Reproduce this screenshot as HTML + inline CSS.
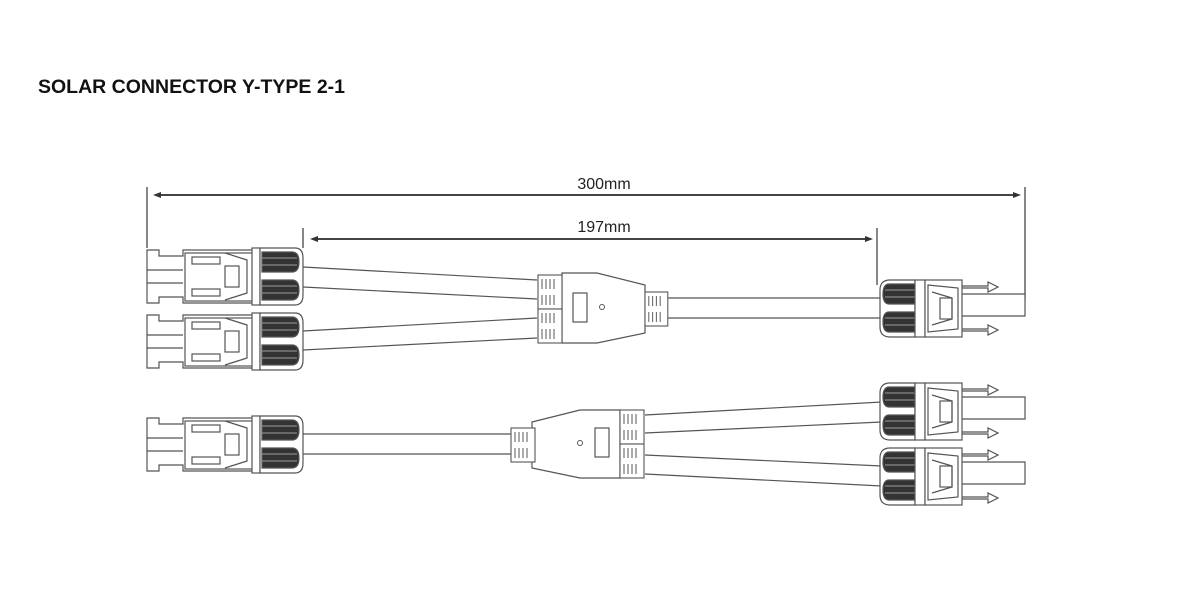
<!DOCTYPE html>
<html><head><meta charset="utf-8"><style>
html,body{margin:0;padding:0;background:#fff;}
body{width:1199px;height:600px;overflow:hidden;position:relative;font-family:"Liberation Sans",sans-serif;}
.t{position:absolute;left:38px;top:76px;font-weight:bold;font-size:19.5px;color:#111;}
</style></head><body>
<div class="t">SOLAR CONNECTOR Y-TYPE 2-1</div>
<svg width="1199" height="600" style="position:absolute;left:0;top:0" xmlns="http://www.w3.org/2000/svg">
<defs>
<g id="fem" fill="none" stroke="#555" stroke-width="1.2">
 <path d="M0,2 H12 V8 H36 V2 H110 V55 H36 V49 H12 V55 H0 Z" fill="#fff"/>
 <line x1="0" y1="22" x2="36" y2="22"/><line x1="0" y1="35" x2="36" y2="35"/>
 <rect x="38" y="5" width="68" height="48"/>
 <rect x="45" y="9" width="28" height="7"/><rect x="45" y="41" width="28" height="7"/>
 <path d="M78,5 L100,12 V45 L78,52"/><rect x="78" y="18" width="14" height="21"/>
 <rect x="105" y="0" width="8" height="57" fill="#fff"/>
 <path d="M113,0 H148 Q156,0 156,10 V47 Q156,57 148,57 H113 Z" fill="#fff"/>
 <path d="M115,4 H145 Q152,4 152,14 Q152,24 145,24 H115 Z" fill="#333"/>
 <path d="M115,32 H145 Q152,32 152,42 Q152,52 145,52 H115 Z" fill="#333"/>
 <line x1="115" y1="10" x2="150" y2="10" stroke="#888"/><line x1="115" y1="17" x2="150" y2="17" stroke="#888"/>
 <line x1="115" y1="38" x2="150" y2="38" stroke="#888"/><line x1="115" y1="45" x2="150" y2="45" stroke="#888"/>
</g>
<g id="male" fill="none" stroke="#555" stroke-width="1.2">
 <path d="M82,14 H145 V36 H82" fill="#fff"/>
 <path d="M82,6 H108 V2 L118,7 L108,12 V8 H82" fill="#fff"/>
 <path d="M82,49 H108 V45 L118,50 L108,55 V51 H82" fill="#fff"/>
 <path d="M10,0 H35 V57 H10 Q0,57 0,47 V10 Q0,0 10,0 Z" fill="#fff"/>
 <path d="M35,4 H9 Q3,4 3,14 Q3,24 9,24 H35 Z" fill="#333"/>
 <path d="M35,32 H9 Q3,32 3,42 Q3,52 9,52 H35 Z" fill="#333"/>
 <line x1="5" y1="10" x2="35" y2="10" stroke="#888"/><line x1="5" y1="17" x2="35" y2="17" stroke="#888"/>
 <line x1="5" y1="38" x2="35" y2="38" stroke="#888"/><line x1="5" y1="45" x2="35" y2="45" stroke="#888"/>
 <rect x="35" y="0" width="10" height="57" fill="#fff"/>
 <rect x="45" y="0" width="37" height="57" fill="#fff"/>
 <path d="M48,5 L78,8 V49 L48,52 Z"/><path d="M52,12 L72,18 V39 L52,45"/><rect x="60" y="18" width="12" height="21"/>
</g>
<g id="fer" fill="#fff" stroke="#555" stroke-width="1.1">
 <rect x="0" y="0" width="24" height="34"/>
 <path d="M4,4 v10 M8,4 v10 M12,4 v10 M16,4 v10 M4,20 v10 M8,20 v10 M12,20 v10 M16,20 v10" stroke="#666"/>
</g>
</defs>
<g stroke="#444" stroke-width="1.3">
 <line x1="147" y1="187" x2="147" y2="248"/><line x1="1025" y1="187" x2="1025" y2="300"/>
 <line x1="303" y1="228" x2="303" y2="248"/><line x1="877" y1="228" x2="877" y2="285"/>
 <line x1="157" y1="195" x2="1018" y2="195" stroke-width="2"/>
 <line x1="313" y1="239" x2="870" y2="239" stroke-width="2"/>
</g>
<g fill="#333"><path d="M153,195 l8,-3 v6 z"/><path d="M1021,195 l-8,-3 v6 z"/><path d="M310,239 l8,-3 v6 z"/><path d="M873,239 l-8,-3 v6 z"/></g>
<text x="604" y="189" font-size="16" text-anchor="middle" fill="#222" font-family="Liberation Sans">300mm</text>
<text x="604" y="232" font-size="16" text-anchor="middle" fill="#222" font-family="Liberation Sans">197mm</text>
<g stroke="#555" stroke-width="1.2" fill="none">
 <line x1="303" y1="267" x2="537" y2="280"/><line x1="303" y1="287" x2="537" y2="299"/>
 <line x1="303" y1="331" x2="537" y2="318"/><line x1="303" y1="350" x2="537" y2="338"/>
 <line x1="668" y1="298" x2="882" y2="298"/><line x1="668" y1="318" x2="882" y2="318"/>
 <line x1="303" y1="434" x2="512" y2="434"/><line x1="303" y1="454" x2="512" y2="454"/>
 <line x1="645" y1="415" x2="882" y2="402"/><line x1="645" y1="433" x2="882" y2="422"/>
 <line x1="645" y1="455" x2="882" y2="466"/><line x1="645" y1="474" x2="882" y2="486"/>
</g>
<use href="#fem" x="147" y="248"/><use href="#fem" x="147" y="313"/><use href="#fem" x="147" y="416"/>
<use href="#male" x="880" y="280"/><use href="#male" x="880" y="383"/><use href="#male" x="880" y="448"/>
<path d="M562,273 H597 L645,285 V333 L597,343 H562 Z" fill="#fff" stroke="#555" stroke-width="1.2"/>
<use href="#fer" x="538" y="275"/><use href="#fer" x="538" y="309"/>
<g transform="translate(645,292) scale(0.95,1)"><use href="#fer"/></g>
<rect x="573" y="293" width="14" height="29" fill="none" stroke="#555" stroke-width="1.2"/>
<circle cx="602" cy="307" r="2.5" fill="none" stroke="#555"/>
<path d="M620,410 H580 L532,422 V468 L580,478 H620 Z" fill="#fff" stroke="#555" stroke-width="1.2"/>
<use href="#fer" x="620" y="410"/><use href="#fer" x="620" y="444"/>
<use href="#fer" x="511" y="428"/>
<rect x="595" y="428" width="14" height="29" fill="none" stroke="#555" stroke-width="1.2"/>
<circle cx="580" cy="443" r="2.5" fill="none" stroke="#555"/>
</svg>
</body></html>
